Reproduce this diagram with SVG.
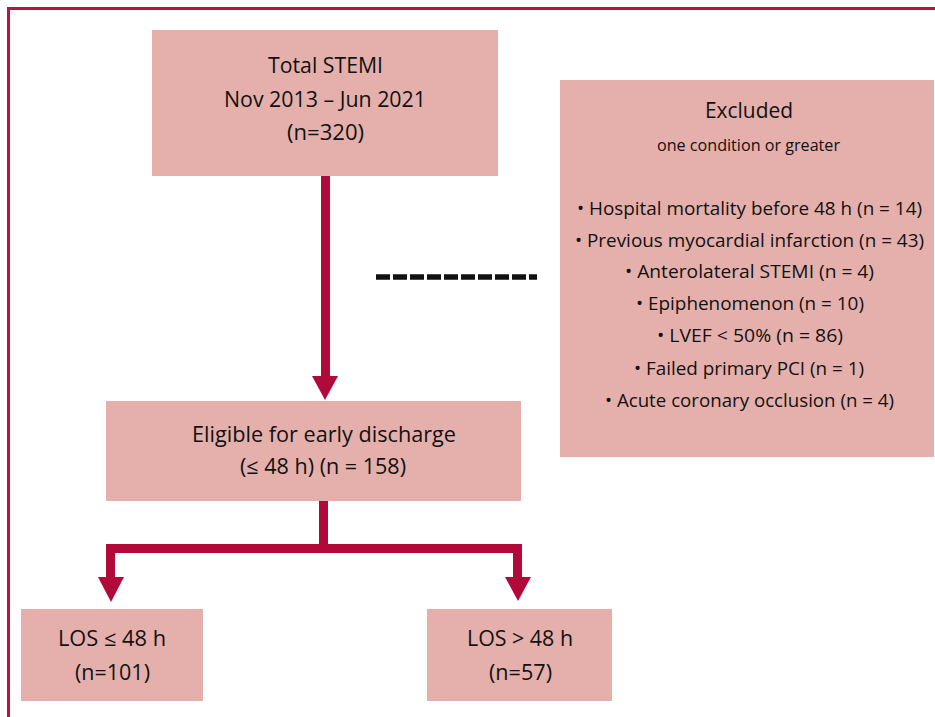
<svg xmlns="http://www.w3.org/2000/svg" width="935" height="717" viewBox="0 0 935 717">
<style>
.box{fill:#e5b0ac}
.t{font-family:"Open Sans","Noto Sans","Liberation Sans",sans-serif;fill:#111;text-anchor:middle;font-size:21px}
.s{font-size:16px}
.b{font-size:19px}
.red{fill:#b10a3a}
</style>
<rect width="935" height="717" fill="#fff"/>
<path d="M8.5 717 V8.5 H935" fill="none" stroke="#c0103f" stroke-width="3"/>
<g id="total">
<rect class="box" x="152" y="30" width="346" height="146"/>
<text class="t" x="325.5" y="73" textLength="115" lengthAdjust="spacingAndGlyphs">Total STEMI</text>
<text class="t" x="325" y="107" textLength="202" lengthAdjust="spacingAndGlyphs">Nov 2013 – Jun 2021</text>
<text class="t" x="325.5" y="140" textLength="77" lengthAdjust="spacingAndGlyphs">(n=320)</text>
</g>
<g id="excluded">
<rect class="box" x="560" y="80" width="374" height="377"/>
<text class="t" x="749" y="118" style="font-size:21px" textLength="88" lengthAdjust="spacingAndGlyphs">Excluded</text>
<text class="t s" x="748.5" y="151" textLength="183" lengthAdjust="spacingAndGlyphs">one condition or greater</text>
<text class="t b" x="749.5" y="215" textLength="345" lengthAdjust="spacingAndGlyphs">• Hospital mortality before 48 h (n = 14)</text>
<text class="t b" x="749.5" y="247" textLength="349" lengthAdjust="spacingAndGlyphs">• Previous myocardial infarction (n = 43)</text>
<text class="t b" x="749.5" y="278" textLength="249" lengthAdjust="spacingAndGlyphs">• Anterolateral STEMI (n = 4)</text>
<text class="t b" x="750" y="310" textLength="228" lengthAdjust="spacingAndGlyphs">• Epiphenomenon (n = 10)</text>
<text class="t b" x="750" y="342" textLength="186" lengthAdjust="spacingAndGlyphs">• LVEF &lt; 50% (n = 86)</text>
<text class="t b" x="749" y="375" textLength="230" lengthAdjust="spacingAndGlyphs">• Failed primary PCI (n = 1)</text>
<text class="t b" x="749.5" y="407" textLength="289" lengthAdjust="spacingAndGlyphs">• Acute coronary occlusion (n = 4)</text>
</g>
<g id="eligible">
<rect class="box" x="106" y="401" width="415" height="100"/>
<text class="t" x="324" y="442" textLength="264" lengthAdjust="spacingAndGlyphs">Eligible for early discharge</text>
<text class="t" x="323" y="474" textLength="166" lengthAdjust="spacingAndGlyphs">(≤ 48 h) (n = 158)</text>
</g>
<g id="los1">
<rect class="box" x="21" y="609" width="182" height="92"/>
<text class="t" x="112" y="646" textLength="108" lengthAdjust="spacingAndGlyphs">LOS ≤ 48 h</text>
<text class="t" x="112.5" y="680" textLength="75" lengthAdjust="spacingAndGlyphs">(n=101)</text>
</g>
<g id="los2">
<rect class="box" x="427" y="609" width="185" height="92"/>
<text class="t" x="520" y="646" textLength="106" lengthAdjust="spacingAndGlyphs">LOS &gt; 48 h</text>
<text class="t" x="520.5" y="680" textLength="63" lengthAdjust="spacingAndGlyphs">(n=57)</text>
</g>
<g id="connectors">
<rect class="red" x="321" y="176" width="9" height="201"/>
<polygon class="red" points="312,376 338,376 325,400"/>
<rect class="red" x="319" y="501" width="9" height="52"/>
<rect class="red" x="106" y="544" width="416" height="9"/>
<rect class="red" x="106" y="544" width="9" height="34"/>
<polygon class="red" points="98,577 124,577 111,602"/>
<rect class="red" x="513" y="544" width="9" height="34"/>
<polygon class="red" points="505,577 531,577 518,601"/>
<line x1="376" y1="277" x2="537" y2="277" stroke="#111" stroke-width="5.5" stroke-dasharray="14 3"/>
</g>
</svg>
